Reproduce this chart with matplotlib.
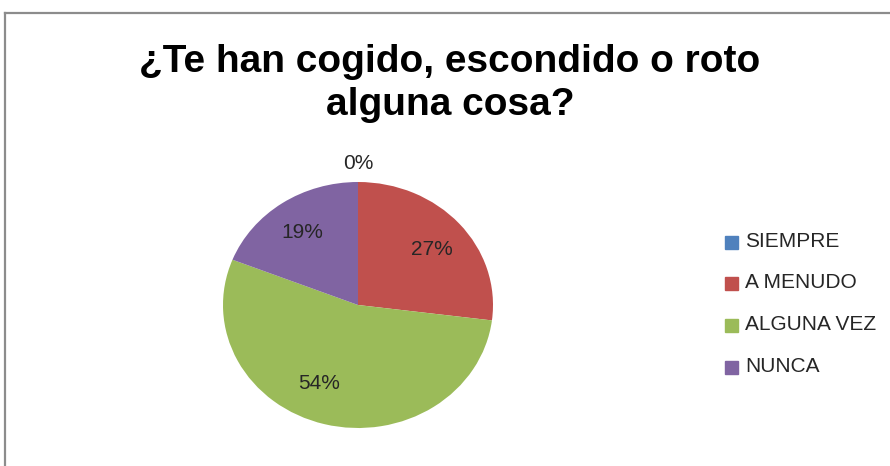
import numpy as np
import matplotlib
matplotlib.use("Agg")
import matplotlib.pyplot as plt
from matplotlib.patches import Rectangle

title_lines = ["¿Te han cogido, escondido o roto", "alguna cosa?"]
categories = ["SIEMPRE", "A MENUDO", "ALGUNA VEZ", "NUNCA"]
values = [0, 27, 54, 19]
colors = ["#4F81BD", "#C0504D", "#9BBB59", "#8064A2"]

# label placement: radial distance and angular nudge (degrees) per slice
label_radius = [1.15, 0.71, 0.70, 0.72]
label_nudge = [0, -2, -10, 1]

W, H = 890, 466
fig = plt.figure(figsize=(W / 100, H / 100), dpi=100)
fig.patch.set_facecolor("white")

# chart frame (left and top edges visible)
fig.add_artist(plt.Line2D([4.5 / W, 4.5 / W], [0, 1 - 13 / H], color="#8c8c8c", lw=1.6,
                          transform=fig.transFigure))
fig.add_artist(plt.Line2D([4.5 / W, 1], [1 - 13 / H, 1 - 13 / H], color="#8c8c8c", lw=1.6,
                          transform=fig.transFigure))

for line, y in zip(title_lines, [62, 105]):
    fig.text(450 / W, 1 - y / H, line, ha="center", va="center", fontsize=28,
             fontweight="bold", family="Liberation Sans", color="black")

# pie area (slightly elliptical)
ax = fig.add_axes([223 / W, 38 / H, 270 / W, 246 / H])
wedges, _ = ax.pie(values, colors=colors, startangle=90, counterclock=False,
                   radius=1, wedgeprops=dict(linewidth=0))
ax.set_aspect("auto")
ax.set_xlim(-1, 1)
ax.set_ylim(-1, 1)
ax.axis("off")

total = sum(values)
start = 90.0
for v, r, nudge in zip(values, label_radius, label_nudge):
    sweep = 360.0 * v / total
    mid = np.deg2rad(start - sweep / 2 + nudge)
    ax.text(r * np.cos(mid), r * np.sin(mid), f"{v}%", ha="center", va="center",
            fontsize=15, family="Liberation Sans", color="#262626")
    start -= sweep

# legend
ys = [242, 283, 325, 367]
for cat, col, y in zip(categories, colors, ys):
    fig.add_artist(Rectangle((725 / W, 1 - (y + 7) / H), 13 / W, 13 / H, color=col,
                             transform=fig.transFigure))
    fig.text(745 / W, 1 - y / H, cat, ha="left", va="center", fontsize=15,
             family="Liberation Sans", color="#262626")

fig.savefig("out.png", dpi=100)
